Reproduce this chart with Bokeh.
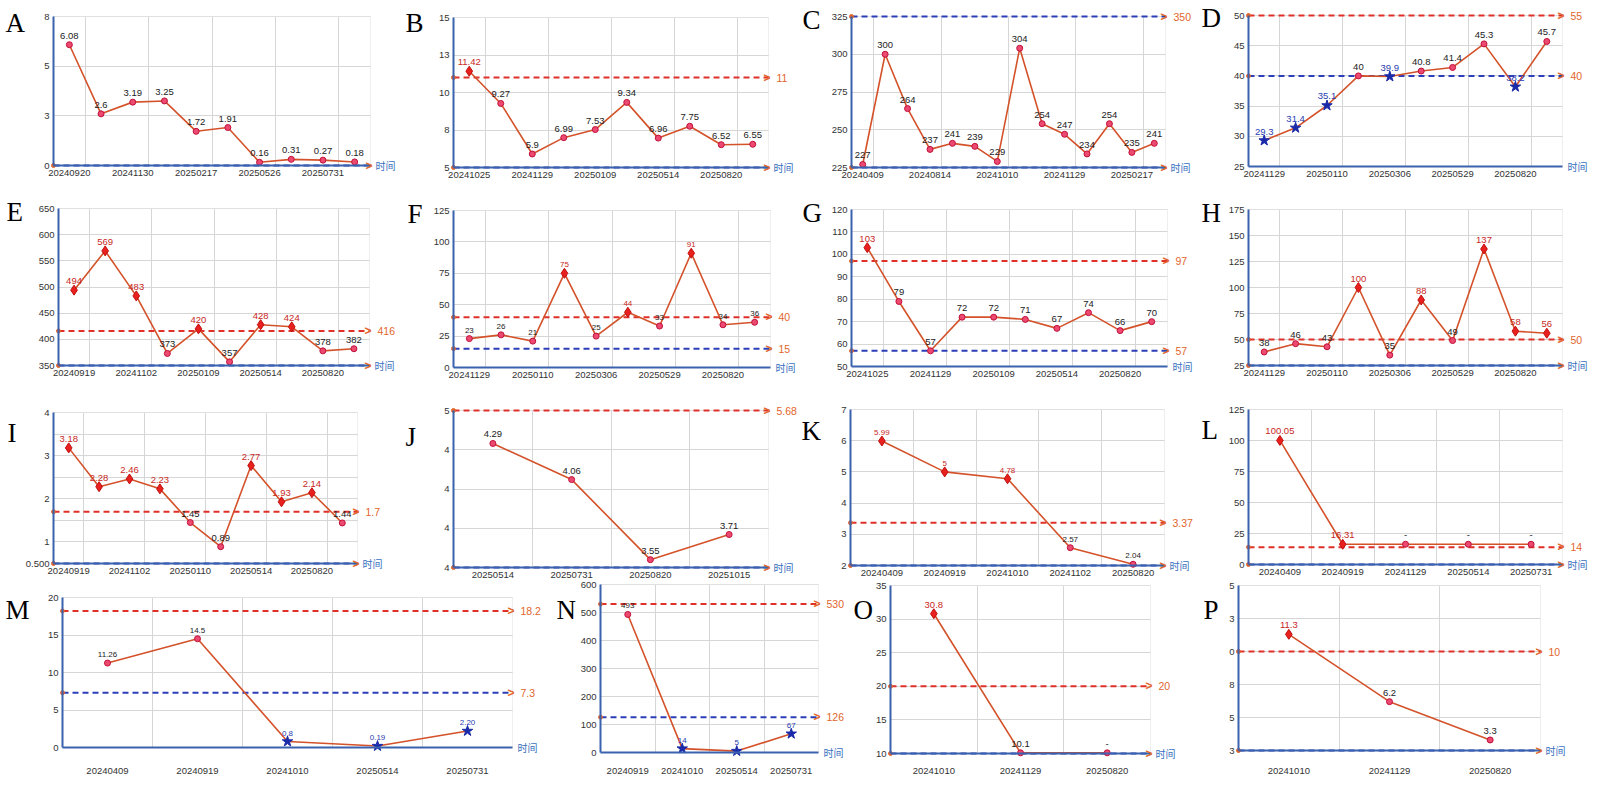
from bokeh.plotting import figure
from bokeh.models import ColumnDataSource, LabelSet, Label, FixedTicker, Range1d, BoxAnnotation
from bokeh.layouts import column, row
from bokeh.core.properties import field, value
from bokeh.embed import file_html
from bokeh.resources import INLINE

# ------------------------------------------------------------------ data
A_dates = ["20240920", "20241130", "20250217", "20250526", "20250731"]
A_vals = [6.08, 2.6, 3.19, 3.25, 1.72, 1.91, 0.16, 0.31, 0.27, 0.18]
A_yticks = [0, 2.5, 5, 7.5]
A_ylabels = ["0", "3", "5", "8"]

B_dates = ["20241025", "20241129", "20250109", "20250514", "20250820"]
B_vals = [11.42, 9.27, 5.9, 6.99, 7.53, 9.34, 6.96, 7.75, 6.52, 6.55]
B_yticks = [5, 7.5, 10, 12.5, 15]
B_ylabels = ["5", "8", "10", "13", "15"]
B_hi = 11

C_dates = ["20240409", "20240814", "20241010", "20241129", "20250217"]
C_vals = [227, 300, 264, 237, 241, 239, 229, 304, 254, 247, 234, 254, 235, 241]
C_yticks = [225, 250, 275, 300, 325]
C_hi = 350

D_dates = ["20241129", "20250110", "20250306", "20250529", "20250820"]
D_vals = [29.3, 31.4, 35.1, 40, 39.9, 40.8, 41.4, 45.3, 38.2, 45.7]
D_yticks = [25, 30, 35, 40, 45, 50]
D_hi = 55
D_lo = 40

E_dates = ["20240919", "20241102", "20250109", "20250514", "20250820"]
E_vals = [494, 569, 483, 373, 420, 357, 428, 424, 378, 382]
E_yticks = [350, 400, 450, 500, 550, 600, 650]
E_hi = 416

F_dates = ["20241129", "20250110", "20250306", "20250529", "20250820"]
F_vals = [23, 26, 21, 75, 25, 44, 33, 91, 34, 36]
F_yticks = [0, 25, 50, 75, 100, 125]
F_hi = 40
F_lo = 15

G_dates = ["20241025", "20241129", "20250109", "20250514", "20250820"]
G_vals = [103, 79, 57, 72, 72, 71, 67, 74, 66, 70]
G_yticks = [50, 60, 70, 80, 90, 100, 110, 120]
G_hi = 97
G_lo = 57

H_dates = ["20241129", "20250110", "20250306", "20250529", "20250820"]
H_vals = [38, 46, 43, 100, 35, 88, 49, 137, 58, 56]
H_yticks = [25, 50, 75, 100, 125, 150, 175]
H_hi = 50

I_dates = ["20240919", "20241102", "20250110", "20250514", "20250820"]
I_vals = [3.18, 2.28, 2.46, 2.23, 1.45, 0.89, 2.77, 1.93, 2.14, 1.44]
I_yticks = [0.5, 1, 1.5, 2, 2.5, 3, 3.5, 4]
I_ylabels = ["0.500", "1", "", "2", "", "3", "", "4"]
I_hi = 1.7

J_dates = ["20250514", "20250731", "20250820", "20251015"]
J_vals = [4.29, 4.06, 3.55, 3.71]
J_yticks = [3.5, 3.75, 4, 4.25, 4.5]
J_ylabels = ["4", "4", "4", "4", "5"]
J_hi = 5.68

K_dates = ["20240409", "20240919", "20241010", "20241102", "20250820"]
K_vals = [5.99, 5, 4.78, 2.57, 2.04]
K_yticks = [2, 3, 4, 5, 6, 7]
K_hi = 3.37

L_dates = ["20240409", "20240919", "20241129", "20250514", "20250731"]
L_vals = [100.05, 16.31, 16.31, 16.31, 16.31]
L_text = ["100.05", "16.31", "-", "-", "-"]
L_yticks = [0, 25, 50, 75, 100, 125]
L_hi = 14

M_dates = ["20240409", "20240919", "20241010", "20250514", "20250731"]
M_vals = [11.26, 14.5, 0.8, 0.19, 2.20]
M_text = ["11.26", "14.5", "0.8", "0.19", "2.20"]
M_yticks = [0, 5, 10, 15, 20]
M_hi = 18.2
M_lo = 7.3

N_dates = ["20240919", "20241010", "20250514", "20250731"]
N_vals = [493, 14, 5, 67]
N_yticks = [0, 100, 200, 300, 400, 500, 600]
N_hi = 530
N_lo = 126

O_dates = ["20241010", "20241129", "20250820"]
O_vals = [30.8, 10.1, 10.1]
O_text = ["30.8", "10.1", "-"]
O_yticks = [10, 15, 20, 25, 30, 35]
O_hi = 20

P_dates = ["20241010", "20241129", "20250820"]
P_vals = [11.3, 6.2, 3.3]
P_yticks = [2.5, 5, 7.5, 10, 12.5, 15]
P_ylabels = ["3", "5", "8", "0", "3", "5"]
P_hi = 10

# ------------------------------------------------------------------ panel definitions
PANELS = [
    dict(name="A", dates=A_dates, vals=A_vals, yt=A_yticks, yl=A_ylabels, hi=None, lo=None, bottom=True, step=2),
    dict(name="B", dates=B_dates, vals=B_vals, yt=B_yticks, yl=B_ylabels, hi=B_hi, lo=None, bottom=True, step=2),
    dict(name="C", dates=C_dates, vals=C_vals, yt=C_yticks, hi=C_hi, lo=None, bottom=True, step=3, hi_blue=True),
    dict(name="D", dates=D_dates, vals=D_vals, yt=D_yticks, hi=D_hi, lo=D_lo, bottom=False, step=2),
    dict(name="E", dates=E_dates, vals=E_vals, yt=E_yticks, hi=E_hi, lo=None, bottom=True, step=2),
    dict(name="F", dates=F_dates, vals=F_vals, yt=F_yticks, hi=F_hi, lo=F_lo, bottom=False, step=2, small=True),
    dict(name="G", dates=G_dates, vals=G_vals, yt=G_yticks, hi=G_hi, lo=G_lo, bottom=False, step=2),
    dict(name="H", dates=H_dates, vals=H_vals, yt=H_yticks, hi=H_hi, lo=None, bottom=True, step=2),
    dict(name="I", dates=I_dates, vals=I_vals, yt=I_yticks, yl=I_ylabels, hi=I_hi, lo=None, bottom=True, step=2),
    dict(name="J", dates=J_dates, vals=J_vals, yt=J_yticks, yl=J_ylabels, hi=J_hi, lo=None, bottom=True, step=1),
    dict(name="K", dates=K_dates, vals=K_vals, yt=K_yticks, hi=K_hi, lo=None, bottom=True, step=1, small=True),
    dict(name="L", dates=L_dates, vals=L_vals, text=L_text, yt=L_yticks, hi=L_hi, lo=None, bottom=True, step=1),
    dict(name="M", dates=M_dates, vals=M_vals, text=M_text, yt=M_yticks, hi=M_hi, lo=M_lo, bottom=False, step=1, small=True),
    dict(name="N", dates=N_dates, vals=N_vals, yt=N_yticks, hi=N_hi, lo=N_lo, bottom=False, step=1, small=True),
    dict(name="O", dates=O_dates, vals=O_vals, text=O_text, yt=O_yticks, hi=O_hi, lo=None, bottom=True, step=1),
    dict(name="P", dates=P_dates, vals=P_vals, yt=P_yticks, yl=P_ylabels, hi=P_hi, lo=None, bottom=True, step=1),
]

# layout in page pixels: box left, right, top, bottom, letter x, letter top, x-label standoff
BOX = {
    "A": (53, 370, 16, 165, 5, 13, 4), "B": (453, 768, 17, 167, 405, 13, 4),
    "C": (851, 1165, 16, 167, 802, 10, 4), "D": (1248, 1562, 15, 166, 1201, 8, 4),
    "E": (58, 369, 208, 365, 6, 202, 4), "F": (453, 770, 210, 367, 407, 204, 4),
    "G": (851, 1167, 209, 366, 802, 203, 4), "H": (1248, 1562, 209, 365, 1201, 203, 4),
    "I": (53, 357, 412, 563, 7, 423, 4), "J": (453, 768, 410, 567, 405, 427, 4),
    "K": (850, 1164, 409, 565, 800, 421, 4), "L": (1248, 1562, 409, 564, 1201, 420, 4),
    "M": (62, 512, 597, 747, 5, 600, 20), "N": (600, 818, 584, 752, 556, 600, 15),
    "O": (890, 1150, 585, 753, 853, 600, 14), "P": (1238, 1540, 585, 750, 1203, 600, 17),
}
COL_E = [[0, 400, 800, 1200, 1600]] * 3 + [[0, 552, 850, 1200, 1600]]
ROW_E = [0, 190, 380, 580, 788]

LINE_C = "#d4522a"
RED = "#e0302a"
BLUE = "#2c3fb8"
ORANGE = "#e2652c"
AXIS_C = "#3a62ae"
SANS = "Liberation Sans"


def make_panel(k, spec):
    name = spec["name"]
    L, R, T, B, lx, ly, so = BOX[name]
    ce = COL_E[k // 4]
    fx0, fx1 = ce[k % 4], ce[k % 4 + 1]
    fy0, fy1 = ROW_E[k // 4], ROW_E[k // 4 + 1]
    cw, rh = fx1 - fx0, fy1 - fy0
    vals = spec["vals"]
    n = len(vals)
    yt = spec["yt"]
    y0, y1 = yt[0], yt[-1]
    # the plot frame covers the whole figure; the visible "box" is the data region
    l, r, t, b = L - fx0, R - fx0, T - fy0, B - fy0
    bpx = (r - l) / n
    ypu = (b - t) / (y1 - y0)
    xs, xe = -0.5 - l / bpx, n - 0.5 + (cw - r) / bpx
    ys, ye = y0 - (rh - b) / ypu, y1 + t / ypu
    p = figure(width=cw, height=rh, x_range=Range1d(xs, xe), y_range=Range1d(ys, ye),
               output_backend="svg", toolbar_location=None, title=None,
               min_border=0, min_border_left=0, min_border_right=0,
               min_border_top=0, min_border_bottom=0)
    p.background_fill_color = "white"
    p.border_fill_color = "white"
    p.outline_line_color = None

    step = spec["step"]
    lab_idx = list(range(0, n, step))
    p.xaxis.ticker = FixedTicker(ticks=lab_idx)
    p.xaxis.major_label_overrides = {i: d for i, d in zip(lab_idx, spec["dates"])}
    p.xgrid.ticker = FixedTicker(ticks=[i + 0.5 for i in lab_idx if i + 0.5 < n - 0.5])
    p.yaxis.ticker = FixedTicker(ticks=list(yt))
    if "yl" in spec:
        p.yaxis.major_label_overrides = {t_: s for t_, s in zip(yt, spec["yl"])}
    p.ygrid.ticker = FixedTicker(ticks=list(yt))
    for g in (p.xgrid, p.ygrid):
        g.grid_line_color = "#d6d6d6"
        g.grid_line_width = 1
    p.xaxis.fixed_location = y0
    p.yaxis.fixed_location = -0.5
    p.xaxis.bounds = (-0.5, n - 0.5)
    p.yaxis.bounds = (y0, y1)
    for ax in (p.xaxis, p.yaxis):
        ax.axis_line_color = AXIS_C
        ax.axis_line_width = 2
        ax.major_tick_out = 0
        ax.major_tick_in = 0
        ax.minor_tick_line_color = None
        ax.major_label_text_font = SANS
        ax.major_label_text_font_size = "9.5px"
        ax.major_label_text_color = "#333333"
        ax.major_label_standoff = 4
    p.xaxis.major_label_standoff = so

    # white covers hide grid lines outside the data box
    for kw in (dict(right=-0.5), dict(left=n - 0.5), dict(bottom=y1), dict(top=y0)):
        p.add_layout(BoxAnnotation(fill_color="white", fill_alpha=1, line_color=None,
                                   level="underlay", **kw))
    p.add_layout(BoxAnnotation(left=-0.5, right=n - 0.5, bottom=y0, top=y1, fill_alpha=0,
                               line_color="#c6c6c6", line_width=1, level="underlay"))

    # threshold lines
    def thr(v, color, label):
        pos = min(max(v, y0), y1)
        p.segment(x0=[-0.5], y0=[pos], x1=[n - 0.5], y1=[pos], line_color=color,
                  line_width=2, line_dash="6 4")
        p.scatter(x=[-0.5], y=[pos], size=4, color=ORANGE)
        p.add_layout(Label(x=n - 0.5, y=pos, x_offset=-5, text=">", text_color=ORANGE,
                           text_font=SANS, text_font_size="12px", text_font_style="bold",
                           text_baseline="middle"))
        if label:
            p.add_layout(Label(x=n - 0.5, y=pos, x_offset=8, text=label, text_color=ORANGE,
                               text_font=SANS, text_font_size="10.5px", text_baseline="middle"))

    hi, lo = spec["hi"], spec["lo"]
    if hi is not None:
        thr(hi, BLUE if spec.get("hi_blue") else RED, f"{hi:g}")
    if lo is not None:
        thr(lo, BLUE, f"{lo:g}")
    if spec["bottom"]:
        thr(y0, BLUE, None)
    p.add_layout(Label(x=n - 0.5, y=y0, x_offset=5, text="时间", text_color="#3a70c0",
                       text_font="Noto Sans CJK SC", text_font_size="10px", text_baseline="middle"))

    # data line, markers, labels
    p.line(list(range(n)), vals, line_color=LINE_C, line_width=1.6)
    texts = spec.get("text", [f"{v:g}" for v in vals])
    mk, sz, fc, lc, tc = [], [], [], [], []
    for v, t_ in zip(vals, texts):
        if t_ != "-" and hi is not None and v > hi:
            mk.append("diamond"); sz.append(10); fc.append("#e8201e"); lc.append("#c01010"); tc.append("#c8281e")
        elif t_ != "-" and lo is not None and v < lo:
            mk.append("star"); sz.append(11); fc.append("#1a2aa8"); lc.append("#1a2aa8"); tc.append("#2a3cb0")
        else:
            mk.append("circle"); sz.append(6); fc.append("#ec4a70"); lc.append("#c0103a"); tc.append("#222222")
    src = ColumnDataSource(dict(x=list(range(n)), y=vals, m=mk, s=sz, fc=fc, lc=lc, t=texts, tc=tc))
    p.scatter(x="x", y="y", marker=field("m"), size="s", fill_color="fc", line_color="lc", source=src)
    fs = "8px" if spec.get("small") else "9.5px"
    p.add_layout(LabelSet(x="x", y="y", text="t", source=src, y_offset=6, text_align="center",
                          text_baseline="bottom", text_font=value(SANS), text_font_size=fs,
                          text_color="tc"))

    # panel letter
    lxl = max(1, lx - fx0)
    lyl = ly - fy0
    yoff = min(t - lyl + 6, t - 1)
    p.add_layout(Label(x=-0.5, y=y1, x_offset=lxl - l, y_offset=yoff, text=name,
                       text_font="Liberation Serif", text_font_size="27px", text_color="black",
                       text_baseline="top", text_align="left"))
    return p


figs = [make_panel(k, s) for k, s in enumerate(PANELS)]
layout = column(*[row(*figs[r * 4:(r + 1) * 4], spacing=0) for r in range(4)], spacing=0)
open("out.html", "w").write(file_html(layout, INLINE))
